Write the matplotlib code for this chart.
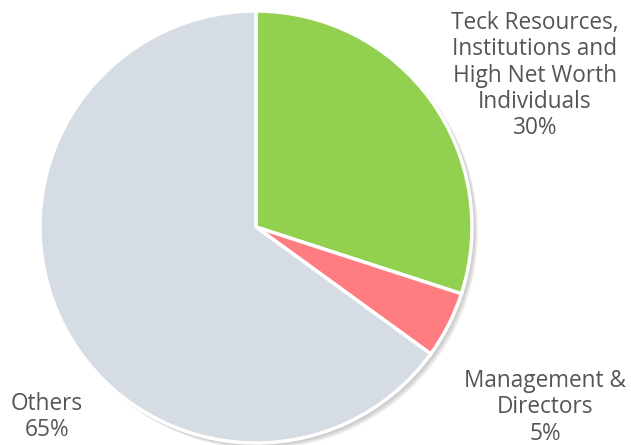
import matplotlib
matplotlib.use("Agg")
import matplotlib.pyplot as plt
from matplotlib.patches import Circle

labels = ["Teck Resources,\nInstitutions and\nHigh Net Worth\nIndividuals", "Management &\nDirectors", "Others"]
values = [30, 5, 65]
colors = ["#92D050", "#FF7C80", "#D6DCE4"]

W, H = 631, 445
fig = plt.figure(figsize=(W / 100, H / 100), dpi=100)
ax = fig.add_axes([0, 0, 1, 1])
ax.set_xlim(0, W)
ax.set_ylim(0, H)
ax.set_aspect("equal")
ax.axis("off")

cx, cy, r = 256, H - 227, 216

# soft shadow
for i, a in enumerate([0.05, 0.05, 0.05, 0.05]):
    ax.add_patch(Circle((cx + 2 + i, cy - 2 - i), r + 1, color="#000000", alpha=a, lw=0, zorder=0))

wedges, _ = ax.pie(values, colors=colors, startangle=90, counterclock=False,
                   center=(cx, cy), radius=r, frame=True,
                   wedgeprops=dict(edgecolor="white", linewidth=2.5))
for w in wedges:
    w.set_zorder(2)
ax.set_xlim(0, W)
ax.set_ylim(0, H)
ax.axis("off")

tc = "#555555"
fs = 16.3
ls = 1.13
ax.text(535, H - 11, labels[0] + "\n" + f"{values[0]}%", ha="center", va="top",
        fontsize=fs, color=tc, family="Open Sans", linespacing=ls)
ax.text(545, H - 369, labels[1] + "\n" + f"{values[1]}%", ha="center", va="top",
        fontsize=fs, color=tc, family="Open Sans", linespacing=ls)
ax.text(47, H - 392, labels[2] + "\n" + f"{values[2]}%", ha="center", va="top",
        fontsize=fs, color=tc, family="Open Sans", linespacing=ls)

fig.savefig("out.png", dpi=100)
